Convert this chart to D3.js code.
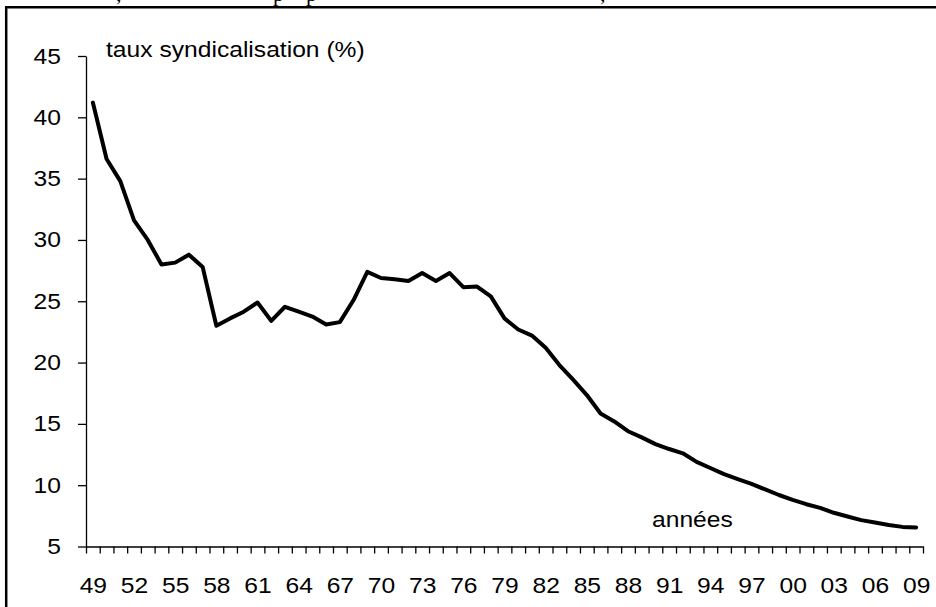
<!DOCTYPE html>
<html lang="fr">
<head>
<meta charset="UTF-8">
<title>Taux de syndicalisation</title>
<script src="https://cdn.jsdelivr.net/npm/d3@7"></script>
<style>
  html, body { margin: 0; padding: 0; background: #fff; }
  svg { display: block; }
  text { font-family: "Liberation Sans", Arial, sans-serif; fill: #000; }
</style>
</head>
<body>
<div id="chart"></div>
<script>
// années 1949 -> 2009
const annees = d3.range(1949, 2010);

// taux de syndicalisation (%)
const taux = [
  41.2, 36.6, 34.8, 31.6, 30.0, 28.0, 28.15, 28.8, 27.8, 23.0,
  23.6, 24.15, 24.9, 23.4, 24.55, 24.15, 23.75, 23.1, 23.3, 25.1,
  27.4, 26.9, 26.8, 26.65, 27.3, 26.65, 27.3, 26.15, 26.2, 25.4,
  23.6, 22.7, 22.2, 21.2, 19.8, 18.6, 17.35, 15.85, 15.2, 14.4,
  13.9, 13.35, 12.95, 12.6, 11.9, 11.4, 10.9, 10.5, 10.1, 9.65,
  9.2, 8.8, 8.45, 8.15, 7.75, 7.45, 7.15, 6.95, 6.75, 6.6,
  6.55
];

const yTicks = [5, 10, 15, 20, 25, 30, 35, 40, 45];
const xLabels = d3.range(1949, 2010, 3);

const W = 936, H = 607;
const sx = 1.12; // le texte du graphique d'origine est un peu étiré

const svg = d3.select("#chart").append("svg")
  .attr("width", W)
  .attr("height", H);

// bas du texte coupé au-dessus du cadre
const texteHaut = svg.append("text")
  .attr("y", 0.5)
  .style("font-family", "'Liberation Serif', 'Times New Roman', serif")
  .style("font-size", "22px");
[[116, ","], [273, "p"], [306, "p"], [600, ","]].forEach(d => {
  texteHaut.append("tspan").attr("x", d[0]).text(d[1]);
});

// cadre
svg.append("path")
  .attr("d", "M6.2," + (H + 10) + "V7.3H" + (W + 10))
  .attr("fill", "none")
  .attr("stroke", "#000")
  .attr("stroke-width", 2.5);

const x = d3.scaleLinear().domain([1948.5, 2009.5]).range([86, 923]);
const y = d3.scaleLinear().domain([5, 45]).range([546.5, 56]);

// axe Y
const gy = svg.append("g")
  .attr("transform", "translate(86,0)")
  .call(d3.axisLeft(y).tickValues(yTicks).tickSize(8).tickSizeOuter(0));
gy.selectAll("text")
  .attr("x", -25 / sx)
  .attr("transform", `scale(${sx},1)`)
  .style("font-size", "22px");

// axe X : graduations entre les années
const gx = svg.append("g")
  .attr("transform", "translate(0,546.5)")
  .call(d3.axisBottom(x).tickValues(d3.range(1948.5, 2010, 1)).tickSize(7).tickSizeOuter(0).tickFormat(""));

// étiquettes tous les 3 ans
const gxl = svg.append("g")
  .attr("transform", "translate(0,546.5)")
  .call(d3.axisBottom(x).tickValues(xLabels).tickSize(0)
    .tickFormat(d => String(d % 100).padStart(2, "0")));
gxl.select(".domain").remove();
gxl.selectAll("text")
  .attr("y", 46.5)
  .attr("dy", 0)
  .attr("transform", `scale(${sx},1)`)
  .style("font-size", "22px");

svg.selectAll(".domain, .tick line")
  .attr("stroke", "#000")
  .attr("stroke-width", 1.3);

// courbe
const line = d3.line()
  .x((d, i) => x(annees[i]))
  .y(d => y(d));

svg.append("path")
  .datum(taux)
  .attr("d", line)
  .attr("fill", "none")
  .attr("stroke", "#000")
  .attr("stroke-width", 4)
  .attr("stroke-linejoin", "round")
  .attr("stroke-linecap", "round");

// titres d'axes
svg.append("text")
  .attr("transform", `translate(106,57) scale(${sx},1)`)
  .style("font-size", "22px")
  .text("taux syndicalisation (%)");

svg.append("text")
  .attr("transform", `translate(652,527) scale(${sx},1)`)
  .style("font-size", "22px")
  .text("années");
</script>
</body>
</html>
